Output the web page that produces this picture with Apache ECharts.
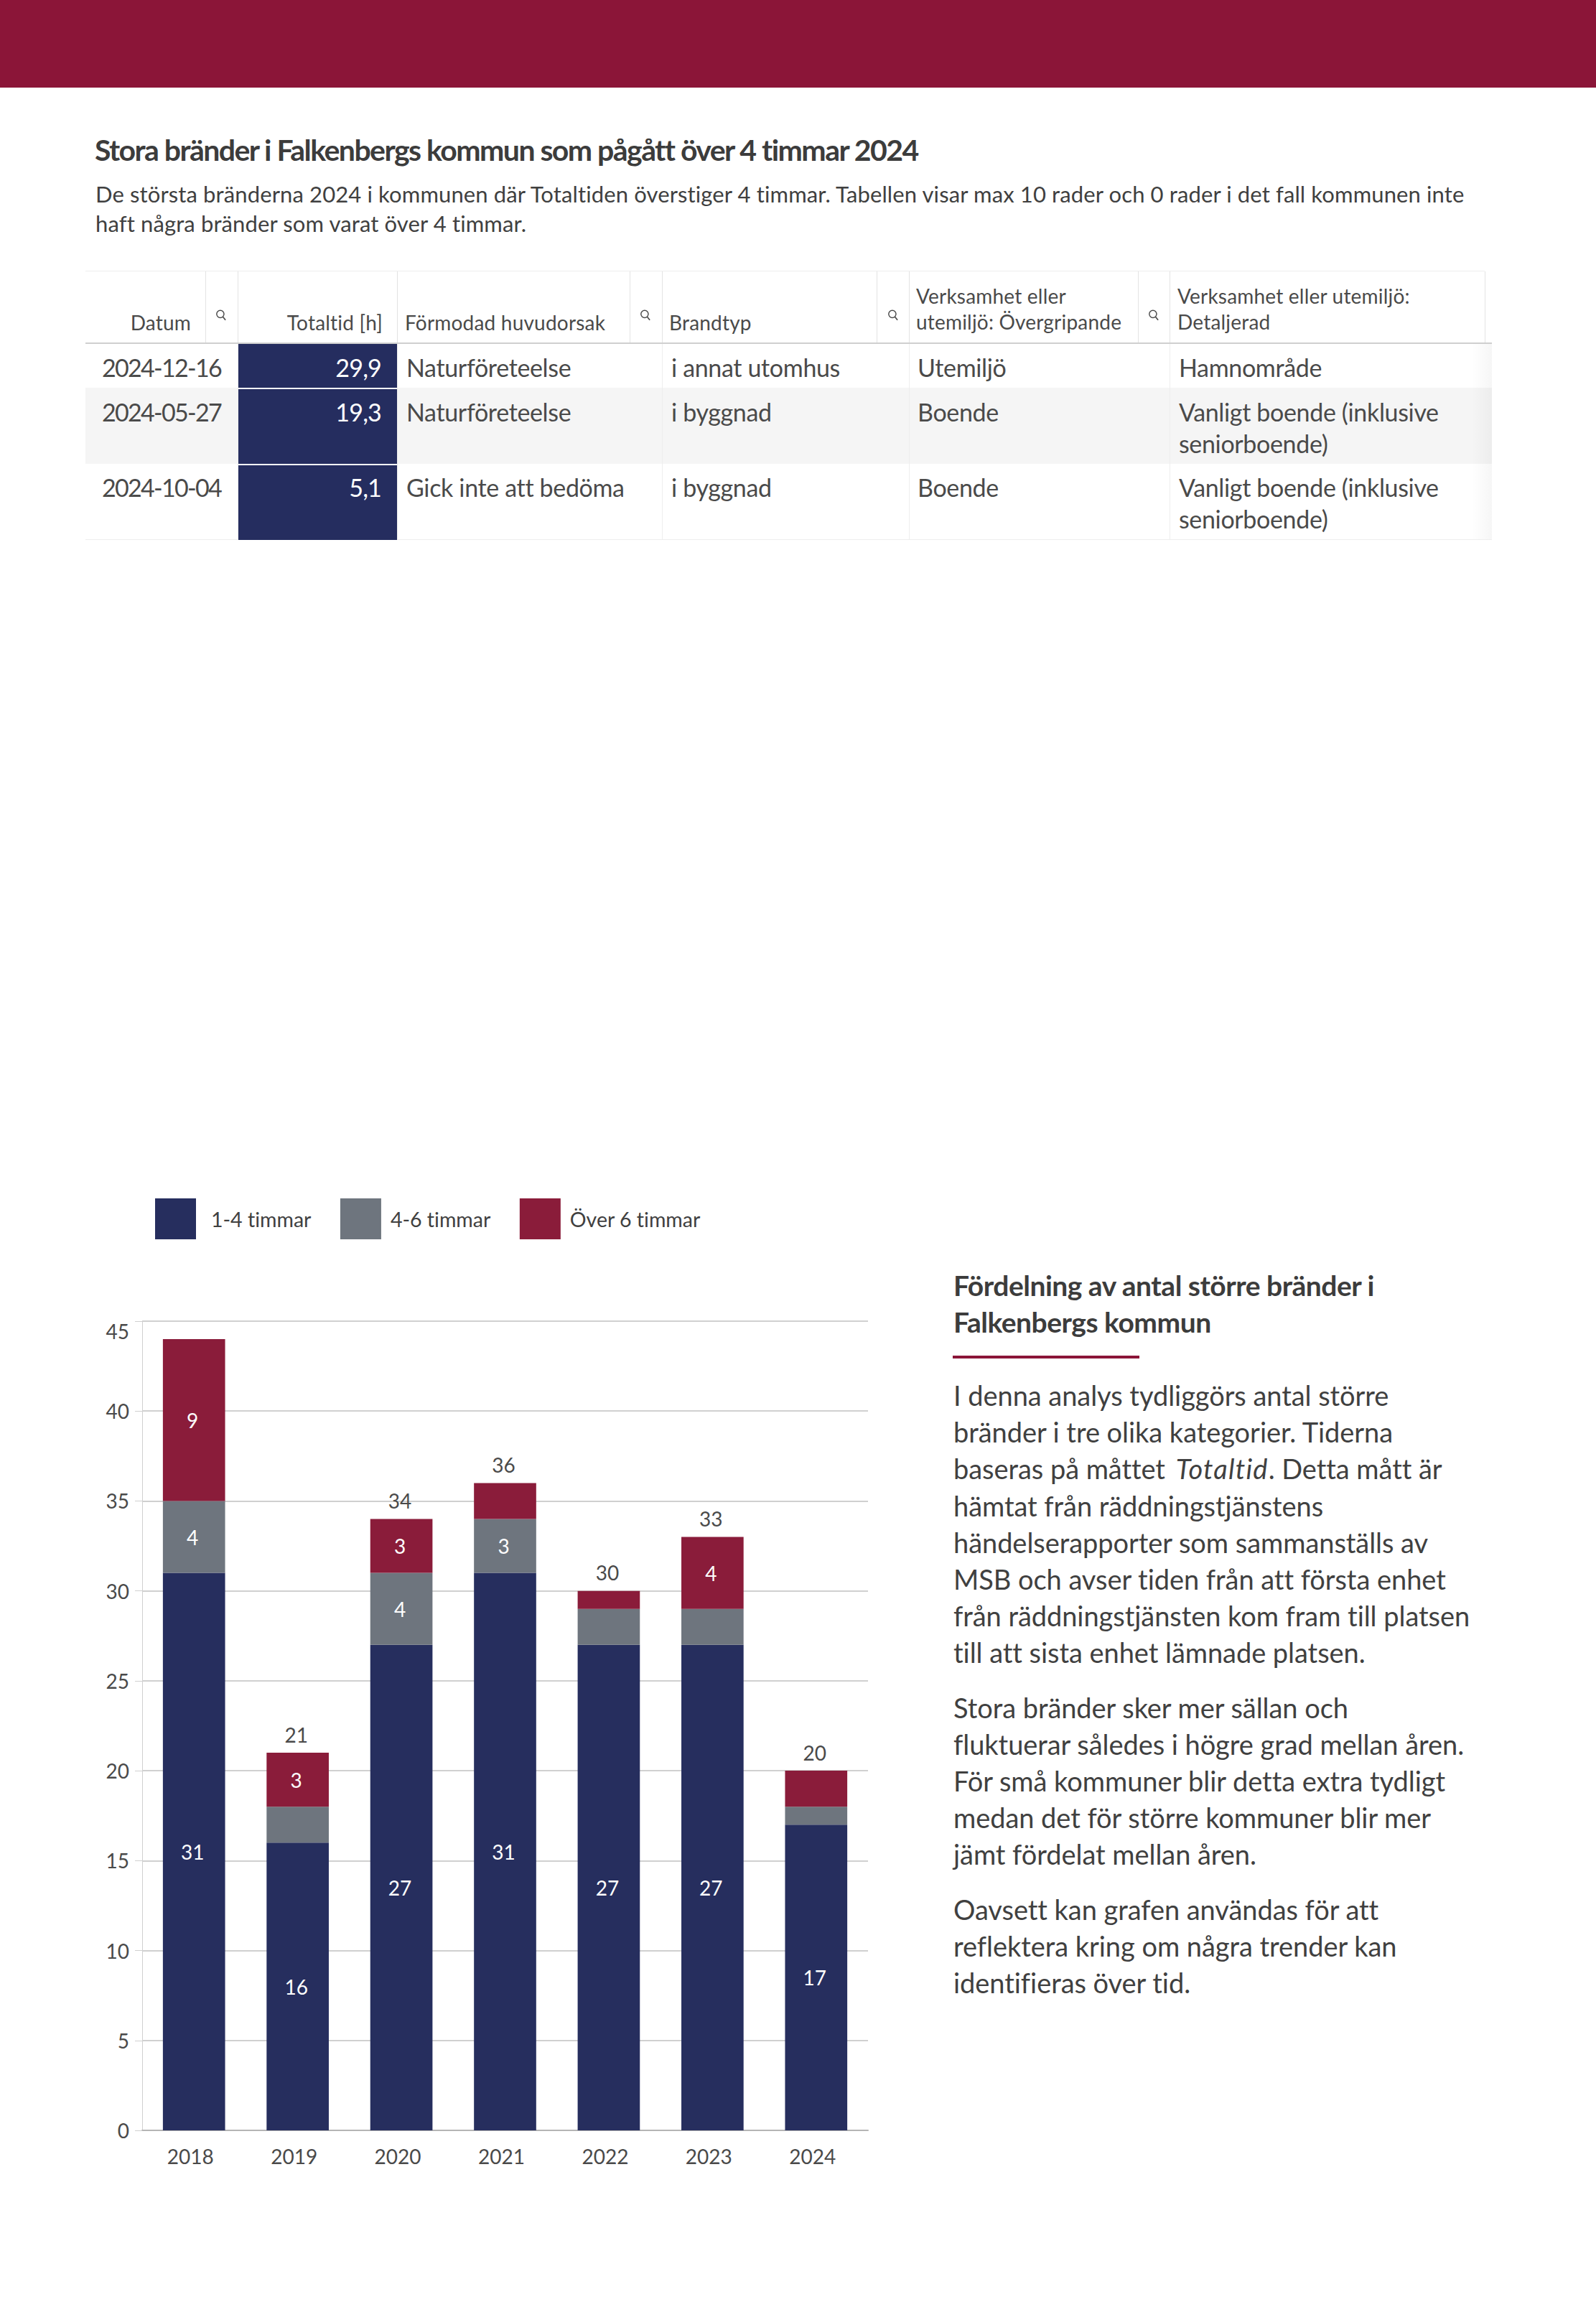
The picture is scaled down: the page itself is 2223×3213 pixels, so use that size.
<!DOCTYPE html>
<html lang="sv"><head><meta charset="utf-8">
<script src="https://cdn.jsdelivr.net/npm/echarts@6/dist/echarts.min.js"></script>
<style>
html,body{margin:0;padding:0;background:#fff}
body{position:relative;width:2223px;height:3213px;overflow:hidden;font-family:Lato,"Noto Sans",sans-serif;color:#404040;font-variant-ligatures:none}
#band{position:absolute;left:0;top:0;width:2223px;height:122px;background:#8b1538}
#chart{position:absolute;left:0;top:0;width:2223px;height:3213px}
.t{position:absolute;white-space:nowrap}
#title{left:132px;top:184px;font-size:41px;line-height:50px;font-weight:700;letter-spacing:-1.55px;color:#3c3c3c}
#sub{left:133px;top:250px;font-size:31px;line-height:41px;letter-spacing:.12px}
.line{position:absolute}
.hd{font-size:28px;line-height:36px;color:#4a4a4a;letter-spacing:.2px}
.bd{font-size:34px;line-height:43.5px;color:#4a4a4a;letter-spacing:-.35px}
.bd.num{letter-spacing:-1.7px}
.ic{position:absolute;width:20px;height:20px}
#side{position:absolute;left:1328px;top:1765px;width:760px}
#side h2{margin:0;font-size:39px;line-height:51px;font-weight:700;color:#3c3c3c;letter-spacing:-.5px;white-space:nowrap}
#side hr{border:0;height:4px;background:#8b1538;width:260px;margin:21px 0 0 -1px}
#side .p{margin:0 0 25px;font-size:38px;line-height:51.2px;letter-spacing:-.05px}
#side .p:first-of-type{margin-top:26px}
#side .p div{white-space:nowrap}
#side i{letter-spacing:1.2px;margin:0 0 0 5px}
</style></head><body>
<div id="chart"></div>
<div id="band"></div>
<div class="t" id="title"></div>
<div class="t" id="sub"></div>
<div id="table"></div>
<div id="side"></div>
<script>
// Chart data
const years = ['2018','2019','2020','2021','2022','2023','2024'];
const oneToFour = [31,16,27,31,27,27,17];
const fourToSix = [4,2,4,3,2,2,1];
const overSix = [9,3,3,2,1,4,2];
const totals = [null,21,34,36,30,33,20];
const seriesNames = ['1-4 timmar','4-6 timmar','Över 6 timmar'];
const yTicks = {min:0,max:45,interval:5};

// Table data
const titleText = 'Stora bränder i Falkenbergs kommun som pågått över 4 timmar 2024';
const subLines = ['De största bränderna 2024 i kommunen där Totaltiden överstiger 4 timmar. Tabellen visar max 10 rader och 0 rader i det fall kommunen inte','haft några bränder som varat över 4 timmar.'];
const tableHeads = ['Datum','Totaltid [h]','Förmodad huvudorsak','Brandtyp','Verksamhet eller<br>utemiljö: Övergripande','Verksamhet eller utemiljö:<br>Detaljerad'];
const dates = ['2024-12-16','2024-05-27','2024-10-04'];
const hours = ['29,9','19,3','5,1'];
const causes = ['Naturföreteelse','Naturföreteelse','Gick inte att bedöma'];
const fireTypes = ['i annat utomhus','i byggnad','i byggnad'];
const broadPlaces = ['Utemiljö','Boende','Boende'];
const detailPlaces = ['Hamnområde','Vanligt boende (inklusive<br>seniorboende)','Vanligt boende (inklusive<br>seniorboende)'];

// Side text
const sideHeading = 'Fördelning av antal större bränder i<br>Falkenbergs kommun';
const sideParas = [
 ['I denna analys tydliggörs antal större','bränder i tre olika kategorier. Tiderna','baseras på måttet <i>Totaltid</i>. Detta mått är','hämtat från räddningstjänstens','händelserapporter som sammanställs av','MSB och avser tiden från att första enhet','från räddningstjänsten kom fram till platsen','till att sista enhet lämnade platsen.'],
 ['Stora bränder sker mer sällan och','fluktuerar således i högre grad mellan åren.','För små kommuner blir detta extra tydligt','medan det för större kommuner blir mer','jämt fördelat mellan åren.'],
 ['Oavsett kan grafen användas för att','reflektera kring om några trender kan','identifieras över tid.']
];

document.getElementById('title').textContent = titleText;
document.getElementById('sub').innerHTML = subLines.map(s=>'<div>'+s+'</div>').join('');
document.getElementById('side').innerHTML = '<h2>'+sideHeading+'</h2><hr>'+sideParas.map(p=>'<div class="p">'+p.map(l=>'<div>'+l+'</div>').join('')+'</div>').join('');

// Table layout
const T = document.getElementById('table');
function box(l,t,w,h,c,extra){const d=document.createElement('div');d.className='line';d.style.cssText=`left:${l}px;top:${t}px;width:${w}px;height:${h}px;background:${c};${extra||''}`;T.appendChild(d);return d;}
function txt(cls,html,style){const d=document.createElement('div');d.className='t '+cls;d.innerHTML=html;d.style.cssText=style;T.appendChild(d);}
box(119,540,1959,106,'#f5f5f5');
box(2050,478,28,274,'','background:linear-gradient(to right,rgba(0,0,0,0),rgba(0,0,0,.035))');
box(119,377,1949,1,'#eeeeee');
[286,331,553,877,922,1221,1266,1585,1629,2068].forEach(x=>box(x,378,1,100,'#e3e3e3'));
[331,553,922,1266,1629].forEach(x=>box(x,478,1,274,'#eeeeee'));
box(119,751,1959,1,'#eeeeee');
box(119,477,1959,2,'#cfcfcf');
box(332,479,221,273,'#252d5f');
box(332,540,221,1.5,'#ffffff');
box(332,646,221,1.5,'#ffffff');
[308,899,1244,1607].forEach(x=>{
 const s=document.createElementNS('http://www.w3.org/2000/svg','svg');
 s.setAttribute('class','ic');s.setAttribute('viewBox','0 0 18 18');s.style.left=(x-10)+'px';s.style.top='429px';
 s.innerHTML='<circle cx="8" cy="7.5" r="4.6" fill="none" stroke="#4a4a4a" stroke-width="1.3"/><line x1="11.2" y1="11" x2="14.5" y2="15" stroke="#4a4a4a" stroke-width="1.5"/>';
 T.appendChild(s);
});
txt('hd',tableHeads[0],'right:'+(2223-266)+'px;top:431px');
txt('hd',tableHeads[1],'right:'+(2223-533)+'px;top:431px');
txt('hd',tableHeads[2],'left:564px;top:431px');
txt('hd',tableHeads[3],'left:932px;top:431px');
txt('hd',tableHeads[4],'left:1276px;top:393.5px');
txt('hd',tableHeads[5],'left:1640px;top:393.5px');
const bodyTops=[489.5,552,657];
dates.forEach((_,i)=>{
 const top='top:'+bodyTops[i]+'px';
 txt('bd num',dates[i],'left:142px;'+top);
 txt('bd',hours[i],'right:'+(2223-531)+'px;color:#fff;letter-spacing:-.8px;'+top);
 txt('bd',causes[i],'left:566px;'+top);
 txt('bd',fireTypes[i],'left:935px;'+top);
 txt('bd',broadPlaces[i],'left:1278px;'+top);
 txt('bd',detailPlaces[i],'left:1642px;'+top);
});

// Chart
const fontFamily='Lato';
const minLabelled=3;
const segData=(arr)=>arr.map(v=>({value:v,label:{show:v>=minLabelled}}));
const mk=(name,data,color)=>({name,type:'bar',stack:'a',data:segData(data),barCategoryGap:'40%',itemStyle:{color},
  label:{show:true,position:'inside',color:'#fff',fontSize:28,fontFamily,offset:[-2,0]},silent:true});
const chart=echarts.init(document.getElementById('chart'),null,{renderer:'svg',width:2223,height:3213});
chart.setOption({
 animation:false,
 backgroundColor:'transparent',
 legend:{show:true,
  data:[{name:seriesNames[0],textStyle:{padding:[0,0,0,16]}},seriesNames[1],seriesNames[2]],
  left:216,top:1669,padding:0,itemWidth:57,itemHeight:57,itemGap:40,icon:'rect',selectedMode:false,
  textStyle:{color:'#404040',fontSize:28.5,fontFamily,padding:[0,0,0,8]}},
 grid:{left:198,width:1011,top:1840,height:1127,containLabel:false},
 xAxis:{type:'category',data:years,axisTick:{show:false},
  axisLine:{lineStyle:{color:'#b5b5b5',width:2}},
  axisLabel:{color:'#4a4a4a',fontSize:28,fontFamily,margin:22,padding:[0,10,0,0]}},
 yAxis:{type:'value',min:yTicks.min,max:yTicks.max,interval:yTicks.interval,
  axisLine:{show:true,lineStyle:{color:'#d0d0d0',width:1}},
  axisTick:{show:true,length:10,lineStyle:{color:'#d0d0d0'}},
  splitLine:{lineStyle:{color:'#d0d0d0',width:2}},
  axisLabel:{color:'#4a4a4a',fontSize:28,fontFamily,margin:18,verticalAlignMaxLabel:'top'}},
 series:[
  mk(seriesNames[0],oneToFour,'#262e5e'),
  mk(seriesNames[1],fourToSix,'#6e757e'),
  mk(seriesNames[2],overSix,'#8a1c3a'),
  {name:'Totalt',type:'line',data:totals,symbol:'circle',symbolSize:1,itemStyle:{color:'transparent'},lineStyle:{color:'transparent',width:0},silent:true,z:5,
   label:{show:true,position:'top',distance:11,color:'#4a4a4a',fontSize:28,fontFamily,offset:[-2,0]}}
 ]
});
</script>
</body></html>
